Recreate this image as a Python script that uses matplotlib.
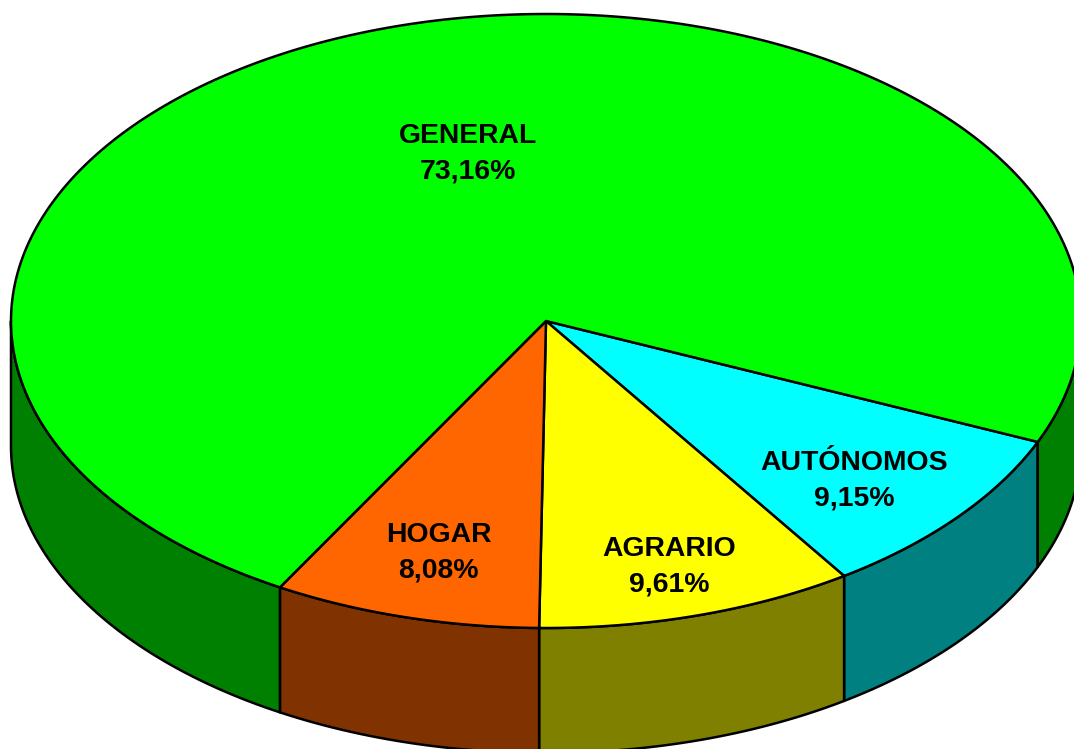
import numpy as np
import matplotlib
matplotlib.use('Agg')
from matplotlib import pyplot as plt
from matplotlib.patches import Polygon

# datos
names = ['AUTÓNOMOS', 'AGRARIO', 'HOGAR', 'GENERAL']
labels = ['9,15%', '9,61%', '8,08%', '73,16%']
values = [9.15, 9.61, 8.08, 73.16]
top_colors = ['#00FFFF', '#FFFF00', '#FF6600', '#00FF00']
side_colors = ['#008080', '#808000', '#803300', '#008000']

# geometria de la elipse, en pixeles
cx, cy = 546, 321
rx, ry = 535, 307
depth = 125
start = -23.2

# centro de cada etiqueta
label_pos = [(854, 480.5), (669, 566.5), (438.5, 552.5), (467.5, 153.5)]

plt.rcParams['font.family'] = ['Liberation Sans', 'DejaVu Sans']

fig = plt.figure(figsize=(10.74, 7.49), dpi=100)
ax = fig.add_axes([0, 0, 1, 1])
ax.set_xlim(0, 1074)
ax.set_ylim(749, 0)
ax.axis('off')


def arc(a0, a1):
    t = np.radians(np.linspace(a0, a1, 300))
    return cx + rx * np.cos(t), cy - ry * np.sin(t)


def wall(a0, a1, color):
    x, y = arc(a0, a1)
    pts = np.vstack([np.c_[x, y], np.c_[x[::-1], y[::-1] + depth]])
    ax.add_patch(Polygon(pts, closed=True, fc=color, ec='black', lw=1.8, joinstyle='round'))


# los angulos van en sentido horario desde start
edges = start - np.cumsum([0] + values) * 3.6

# paredes primero, solo la mitad inferior de la elipse se ve
for i in range(len(values)):
    a0, a1 = min(edges[i], 0), max(edges[i + 1], -180)
    if a0 > a1:
        wall(a0, a1, side_colors[i])

# la parte de GENERAL a la derecha de AUTONOMOS
wall(0, start, side_colors[3])

# tapa
for i in range(len(values)):
    x, y = arc(edges[i], edges[i + 1])
    pts = np.vstack([[cx, cy], np.c_[x, y]])
    ax.add_patch(Polygon(pts, closed=True, fc=top_colors[i], ec='black', lw=1.8, joinstyle='round'))

for i in range(len(values)):
    ax.text(label_pos[i][0], label_pos[i][1], names[i] + '\n' + labels[i], ha='center', va='center',
            fontsize=20.4, fontweight='bold', color='black', linespacing=1.46)

fig.savefig('out.png', dpi=100, facecolor='white')
